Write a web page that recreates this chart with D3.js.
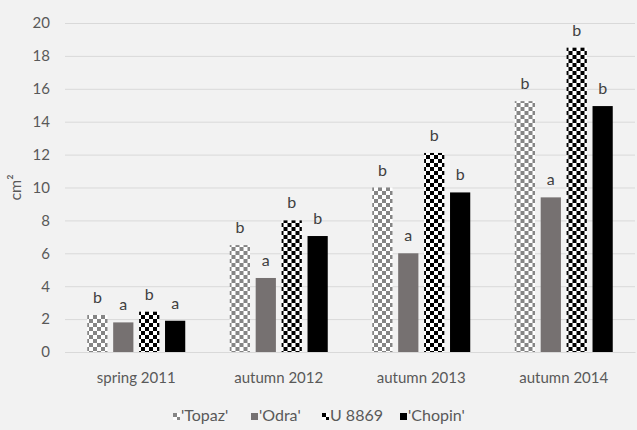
<!DOCTYPE html>
<html>
<head>
<meta charset="utf-8">
<script src="https://cdn.jsdelivr.net/npm/d3@7"></script>
<style>
  body { margin: 0; background: #f2f2f2; }
  text { font-family: Lato, "Open Sans", sans-serif; }
</style>
</head>
<body>
<div class="chart"></div>
<script>
// chart data
var categories = ["spring 2011", "autumn 2012", "autumn 2013", "autumn 2014"];
var seriesNames = ["'Topaz'", "'Odra'", "U 8869", "'Chopin'"];
var topaz  = [2.25, 6.5, 10.0, 15.25];
var odra   = [1.8, 4.5, 6.0, 9.4];
var u8869  = [2.45, 8.0, 12.1, 18.5];
var chopin = [1.9, 7.05, 9.7, 14.95];
var letters = [
  ["b", "a", "b", "a"],
  ["b", "a", "b", "b"],
  ["b", "a", "b", "b"],
  ["b", "a", "b", "b"]
];
var yTicks = [0, 2, 4, 6, 8, 10, 12, 14, 16, 18, 20];

var svgWidth = 637;
var svgHeight = 430;

var margin = { top: 23, right: 2, bottom: 78, left: 65 };
var width = svgWidth - margin.left - margin.right;
var height = svgHeight - margin.top - margin.bottom;

var svg = d3.select(".chart")
  .append("svg")
  .attr("width", svgWidth)
  .attr("height", svgHeight);

svg.append("rect")
  .attr("width", svgWidth)
  .attr("height", svgHeight)
  .attr("fill", "#f2f2f2");

// checker patterns for Topaz (grey) and U 8869 (black)
var defs = svg.append("defs");
function checker(id, color) {
  var p = defs.append("pattern")
    .attr("id", id)
    .attr("patternUnits", "userSpaceOnUse")
    .attr("width", 8)
    .attr("height", 8);
  p.append("rect").attr("width", 8).attr("height", 8).attr("fill", "#ffffff");
  p.append("rect").attr("width", 4).attr("height", 4).attr("fill", color);
  p.append("rect").attr("x", 4).attr("y", 4).attr("width", 4).attr("height", 4).attr("fill", color);
}
checker("topazPat", "#858585");
checker("uPat", "#000000");

var fills = ["url(#topazPat)", "#767171", "url(#uPat)", "#000000"];

var data = categories.map(function(c, i) {
  return {
    cat: c,
    values: [topaz[i], odra[i], u8869[i], chopin[i]].map(function(v, j) {
      return { series: j, value: v, letter: letters[i][j] };
    })
  };
});

var chartGroup = svg.append("g")
  .attr("transform", `translate(${margin.left}, ${margin.top})`);

var x0 = d3.scaleBand()
  .domain(categories)
  .range([0, width]);

var groupW = 98;
var x1 = d3.scaleBand()
  .domain(d3.range(seriesNames.length))
  .range([(x0.bandwidth() - groupW) / 2, (x0.bandwidth() + groupW) / 2])
  .paddingInner(0.22)
  .paddingOuter(0);

var yLinearScale = d3.scaleLinear()
  .domain([0, 20])
  .range([height, 0]);

// gridlines + left labels
var leftAxis = d3.axisLeft(yLinearScale)
  .tickValues(yTicks)
  .tickSize(-width)
  .tickPadding(15);

var yAxisG = chartGroup.append("g").call(leftAxis);
yAxisG.select(".domain").remove();
yAxisG.selectAll("line").attr("stroke", "#d9d9d9");
yAxisG.selectAll("text")
  .attr("fill", "#595959")
  .style("font-size", "15px");

// bottom axis
var bottomAxis = d3.axisBottom(x0).tickSize(0).tickPadding(20);
var xAxisG = chartGroup.append("g")
  .attr("transform", `translate(0, ${height})`)
  .call(bottomAxis);
xAxisG.select(".domain").attr("stroke", "#d9d9d9");
xAxisG.selectAll("text")
  .attr("fill", "#595959")
  .style("font-size", "15px");

// bars
var groups = chartGroup.selectAll(".group")
  .data(data)
  .enter()
  .append("g")
  .attr("class", "group")
  .attr("transform", d => `translate(${x0(d.cat)}, 0)`);

groups.selectAll("rect")
  .data(d => d.values)
  .enter()
  .append("rect")
  .attr("x", d => x1(d.series))
  .attr("y", d => yLinearScale(d.value))
  .attr("width", x1.bandwidth())
  .attr("height", d => height - yLinearScale(d.value))
  .attr("fill", d => fills[d.series]);

groups.selectAll(".letter")
  .data(d => d.values)
  .enter()
  .append("text")
  .attr("class", "letter")
  .attr("x", d => x1(d.series) + x1.bandwidth() / 2)
  .attr("y", d => yLinearScale(d.value) - 12)
  .attr("text-anchor", "middle")
  .attr("fill", "#404040")
  .style("font-size", "16px")
  .text(d => d.letter);

// y axis title
svg.append("text")
  .attr("transform", "rotate(-90)")
  .attr("x", -(margin.top + height / 2))
  .attr("y", 21)
  .attr("text-anchor", "middle")
  .attr("fill", "#595959")
  .style("font-size", "16px")
  .text("cm²");

// legend
var legendX = [173, 251, 322, 400];
var legend = svg.append("g")
  .attr("transform", "translate(0, 421)");

var items = legend.selectAll(".item")
  .data(seriesNames)
  .enter()
  .append("g")
  .attr("class", "item")
  .attr("transform", (d, i) => `translate(${legendX[i]}, 0)`);

items.append("rect")
  .attr("x", 0)
  .attr("y", -8)
  .attr("width", 7)
  .attr("height", 7)
  .attr("fill", (d, i) => fills[i]);

items.append("text")
  .attr("x", 8)
  .attr("y", 0)
  .attr("fill", "#595959")
  .style("font-size", "16px")
  .text(d => d);
</script>
</body>
</html>
